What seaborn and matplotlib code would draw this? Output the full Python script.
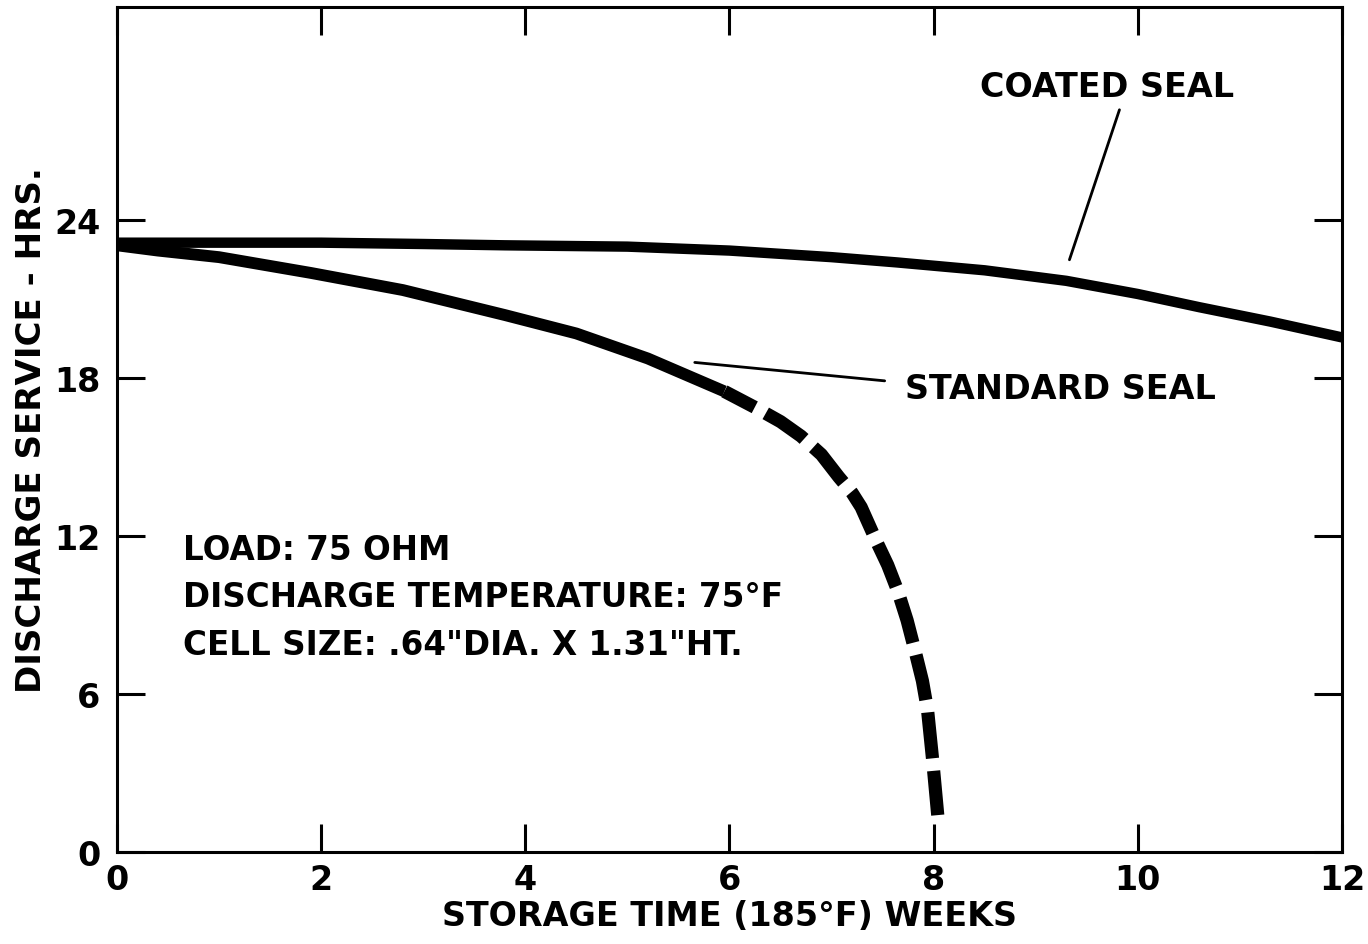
import numpy as np
import pandas as pd
import matplotlib
matplotlib.use("Agg")
import matplotlib.pyplot as plt
import seaborn as sns

# values
coated_weeks = [0, 1, 2, 3, 3.8, 5, 6, 7, 7.64, 8.5, 9.3, 10, 10.6, 11.3, 12]
coated_hrs = [23.15, 23.15, 23.15, 23.1, 23.05, 23.0, 22.85, 22.6, 22.4, 22.1, 21.7, 21.2, 20.7, 20.15, 19.55]

standard_weeks = [0, 0.4, 1.0, 1.9, 2.8, 3.8, 4.5, 5.2, 5.95, 6.27, 6.5, 6.7, 6.9, 7.07,
                  7.2, 7.29, 7.44, 7.55, 7.65, 7.74, 7.82, 7.89, 7.94, 7.99, 8.04]
standard_hrs = [23.05, 22.85, 22.6, 22.0, 21.35, 20.4, 19.7, 18.75, 17.5, 16.85, 16.35,
                15.8, 15.1, 14.25, 13.65, 13.1, 11.8, 10.9, 9.9, 8.8, 7.6, 6.5, 5.4, 3.5, 1.4]
dash_from = 5.95  # standard seal curve is dashed beyond this week

x_ticks = [0, 2, 4, 6, 8, 10, 12]
y_ticks = [0, 6, 12, 18, 24]
info_lines = ["LOAD: 75 OHM",
              "DISCHARGE TEMPERATURE: 75\u00b0F",
              "CELL SIZE: .64\"DIA. X 1.31\"HT."]

sns.set_theme(style="ticks")
plt.rcParams["font.family"] = ["DejaVu Sans"]
plt.rcParams["font.weight"] = "bold"
plt.rcParams["text.color"] = "black"
plt.rcParams["axes.labelcolor"] = "black"

fig = plt.figure(figsize=(13.68, 9.45), dpi=100)
ax = fig.add_axes([0.0855, 0.0974, 0.8955, 0.894])

coated = pd.DataFrame({"weeks": coated_weeks, "hrs": coated_hrs})
std = pd.DataFrame({"weeks": standard_weeks, "hrs": standard_hrs})
std_solid = std[std["weeks"] <= dash_from]
std_dash = std[std["weeks"] >= dash_from]

sns.lineplot(data=coated, x="weeks", y="hrs", ax=ax, color="black", lw=7.5,
             sort=False, estimator=None, solid_capstyle="butt", solid_joinstyle="round")
sns.lineplot(data=std_solid, x="weeks", y="hrs", ax=ax, color="black", lw=8.5,
             sort=False, estimator=None, solid_capstyle="butt", solid_joinstyle="round")
sns.lineplot(data=std_dash, x="weeks", y="hrs", ax=ax, color="black", lw=9.5,
             sort=False, estimator=None, linestyle=(0.9, (3.5, 0.95)),
             dash_capstyle="butt", dash_joinstyle="round")

ax.set_xlim(0, 12)
ax.set_ylim(0, 32.1)
ax.set_xticks(x_ticks)
ax.set_yticks(y_ticks)
ax.tick_params(direction="in", length=20, width=2.2, top=True, right=True,
               labelsize=24, colors="black")
ax.tick_params(axis="x", pad=8)
ax.tick_params(axis="y", pad=12)
for sp in ax.spines.values():
    sp.set_linewidth(2.2)
    sp.set_color("black")

ax.set_xlabel("STORAGE TIME (185\u00b0F) WEEKS", fontsize=24, fontweight="bold", labelpad=2)
ax.set_ylabel("DISCHARGE SERVICE - HRS.", fontsize=24.5, fontweight="bold", labelpad=4)

# curve labels with leader lines
ax.text(8.45, 29.1, "COATED SEAL", fontsize=24, fontweight="bold", va="center", ha="left")
ax.plot([9.82, 9.33], [28.2, 22.5], color="black", lw=2)
ax.text(7.72, 17.6, "STANDARD SEAL", fontsize=24, fontweight="bold", va="center", ha="left")
ax.plot([7.52, 5.66], [17.9, 18.6], color="black", lw=2)

for i, line in enumerate(info_lines):
    ax.text(0.65, 11.5 - i * 1.8, line, fontsize=23.5, fontweight="bold", va="center", ha="left")

fig.savefig("out.png", dpi=100)
